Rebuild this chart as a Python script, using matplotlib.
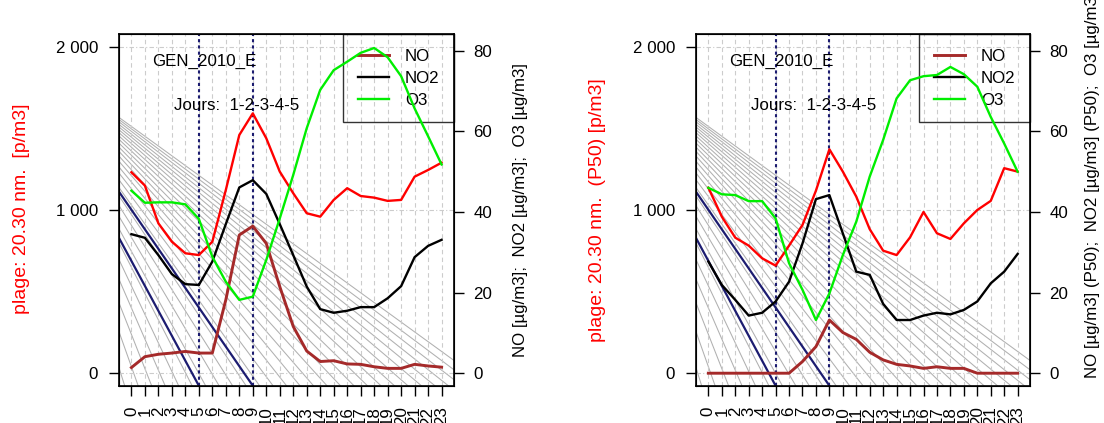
import matplotlib
matplotlib.use('Agg')
import matplotlib.pyplot as plt
from matplotlib.ticker import FuncFormatter

plt.rcParams['font.family'] = ['Liberation Sans', 'DejaVu Sans']

hours = list(range(24))
hour_labels = [str(h) for h in hours]

# left panel (means)
left_plage = [1232, 1150, 918, 805, 734, 723, 805, 1123, 1461, 1594, 1441, 1236,
              1103, 980, 959, 1062, 1134, 1086, 1076, 1056, 1062, 1205, 1246, 1291]
left_no = [1.4, 4.1, 4.7, 5.0, 5.4, 5.0, 5.0, 18.2, 34.3, 36.5, 32.2, 21.5,
           11.6, 5.5, 2.9, 3.1, 2.3, 2.2, 1.6, 1.2, 1.2, 2.2, 1.8, 1.5]
left_no2 = [34.5, 33.6, 29.3, 24.6, 22.1, 21.9, 27.7, 37.0, 46.1, 47.9, 44.5, 37.0,
            29.3, 21.5, 15.9, 15.0, 15.5, 16.4, 16.4, 18.6, 21.6, 28.8, 31.6, 33.1]
left_o3 = [45.3, 42.3, 42.4, 42.4, 41.9, 38.3, 28.9, 22.7, 18.2, 19.0, 28.1, 38.4,
           49.2, 60.8, 70.3, 75.2, 77.3, 79.5, 80.7, 78.4, 73.7, 65.7, 58.8, 51.8]

# right panel (P50)
right_plage = [1137, 959, 830, 781, 703, 658, 781, 908, 1119, 1373, 1236, 1082,
               882, 750, 723, 832, 988, 857, 822, 918, 1000, 1056, 1257, 1236]
right_no = [0, 0, 0, 0, 0, 0, 0, 2.9, 6.6, 13.2, 10.1, 8.4,
            5.2, 3.3, 2.2, 1.8, 1.2, 1.6, 1.2, 1.2, 0, 0, 0, 0]
right_no2 = [27.7, 21.9, 18.2, 14.3, 15.0, 17.8, 22.7, 32.2, 43.2, 44.2, 34.7, 25.2,
             24.4, 17.2, 13.2, 13.2, 14.3, 15.0, 14.6, 15.7, 17.8, 22.3, 25.2, 29.6]
right_o3 = [46.0, 44.4, 44.2, 42.7, 42.7, 38.4, 27.3, 20.7, 13.2, 19.8, 29.3, 37.6,
            48.8, 57.9, 68.2, 72.7, 73.7, 74.0, 76.0, 74.2, 71.1, 63.6, 57.0, 50.0]

# background hatch lines: value at left edge -> hour where they hit the bottom
hatch_start = [30, 252, 429, 574, 695, 797, 884, 961, 1027, 1086, 1138, 1185, 1227, 1264,
               1299, 1331, 1360, 1386, 1411, 1434, 1455, 1475, 1493, 1510, 1526, 1542, 1556, 1569]
hatch_end = [-0.5, 0.5, 1.5, 2.5, 3.5, 4.5, 5.5, 6.5, 7.5, 8.5, 9.5, 10.5, 11.5, 12.5,
             13.5, 14.5, 15.5, 16.5, 17.5, 18.5, 19.5, 20.5, 21.5, 22.5, 23.5, 24.5, 25.5, 26.5]
navy_start = [1112, 828]
navy_end = [9, 5]
marker_hours = [5, 9]

xlim = (-0.92, 23.92)
ylim_left = (-80, 2080)
ylim_right = (-3.1, 84.1)
fs = 12.2


def draw_panel(rect, plage, no, no2, o3):
    ax = fig.add_axes(rect)
    ax.set_xlim(xlim)
    ax.set_ylim(ylim_left)
    for v, h in zip(hatch_start, hatch_end):
        ax.plot([xlim[0], h], [v, ylim_left[0]], color='#b0b0b0', lw=0.75, zorder=1)
    for v, h in zip(navy_start, navy_end):
        ax.plot([xlim[0], h], [v, ylim_left[0]], color='#1c1c70', lw=1.6, zorder=2)
    for h in hours:
        ax.axvline(h, color='#cccccc', lw=0.8, ls=(0, (4, 3)), zorder=1.5)
    for v in [0, 1000, 2000]:
        ax.axhline(v, color='#cccccc', lw=0.8, ls=(0, (4, 2, 1, 2)), zorder=1.5)
    for h in marker_hours:
        ax.axvline(h, color='#1c1c70', lw=1.5, ls=(0, (1.5, 1.5)), zorder=2)
    ax.plot(hours, plage, color='red', lw=1.7, zorder=3)

    ax.text(5.4, 1889, 'GEN_2010_E', ha='center', va='baseline', fontsize=fs)
    ax.text(7.83, 1615, 'Jours:  1-2-3-4-5', ha='center', va='baseline', fontsize=fs)

    ax.set_yticks([0, 1000, 2000])
    ax.yaxis.set_major_formatter(FuncFormatter(lambda v, p: f"{int(v):,}".replace(',', ' ')))
    ax.set_xticks(hours)
    ax.set_xticklabels(hour_labels, rotation=90, va='top', ha='center')
    ax.tick_params(axis='both', labelsize=fs, length=7.5, width=1)
    ax.tick_params(axis='y', pad=7.5)
    ax.tick_params(axis='x', pad=7.5)
    for s in ax.spines.values():
        s.set_linewidth(1.2)

    ax2 = ax.twinx()
    ax2.set_ylim(ylim_right)
    l1, = ax2.plot(hours, no, color='#a52a2a', lw=2.1, label='NO')
    l2, = ax2.plot(hours, no2, color='black', lw=1.7, label='NO2')
    l3, = ax2.plot(hours, o3, color='#00ee00', lw=1.7, label='O3')
    ax2.set_yticks([0, 20, 40, 60, 80])
    ax2.tick_params(axis='y', labelsize=fs, length=7.5, width=1, pad=6.5)

    leg = ax.legend(handles=[l1, l2, l3], loc='upper right', bbox_to_anchor=(1, 1),
                    borderaxespad=0, fontsize=fs, handlelength=1.85, handletextpad=0.95,
                    borderpad=0.85, labelspacing=0.42, fancybox=False,
                    edgecolor='black', facecolor='none')
    leg.get_frame().set_linewidth(1)
    return ax, ax2


fig = plt.figure(figsize=(11.04, 4.23), dpi=100)
H = 423.0
W = 1104.0
bottom = 1 - 385.7 / H
height = (385.7 - 34.3) / H

draw_panel([119 / W, bottom, 335 / W, height], left_plage, left_no, left_no2, left_o3)
draw_panel([696 / W, bottom, 334 / W, height], right_plage, right_no, right_no2, right_o3)

fig.text(21.5 / W, 1 - 209 / H, 'plage: 20.30 nm.  [p/m3]', color='red', rotation=90,
         ha='center', va='center', fontsize=14)
fig.text(597 / W, 1 - 210 / H, 'plage: 20.30 nm.  (P50) [p/m3]', color='red', rotation=90,
         ha='center', va='center', fontsize=14)
fig.text(520.5 / W, 1 - 210 / H, 'NO [µg/m3];  NO2 [µg/m3];  O3 [µg/m3]', rotation=90,
         ha='center', va='center', fontsize=fs)
fig.text(1093 / W, 1 - 378 / H, 'NO [µg/m3] (P50);  NO2 [µg/m3] (P50);  O3 [µg/m3] (P50)',
         rotation=90, ha='center', va='bottom', fontsize=fs)

fig.savefig('out.png', dpi=100)
